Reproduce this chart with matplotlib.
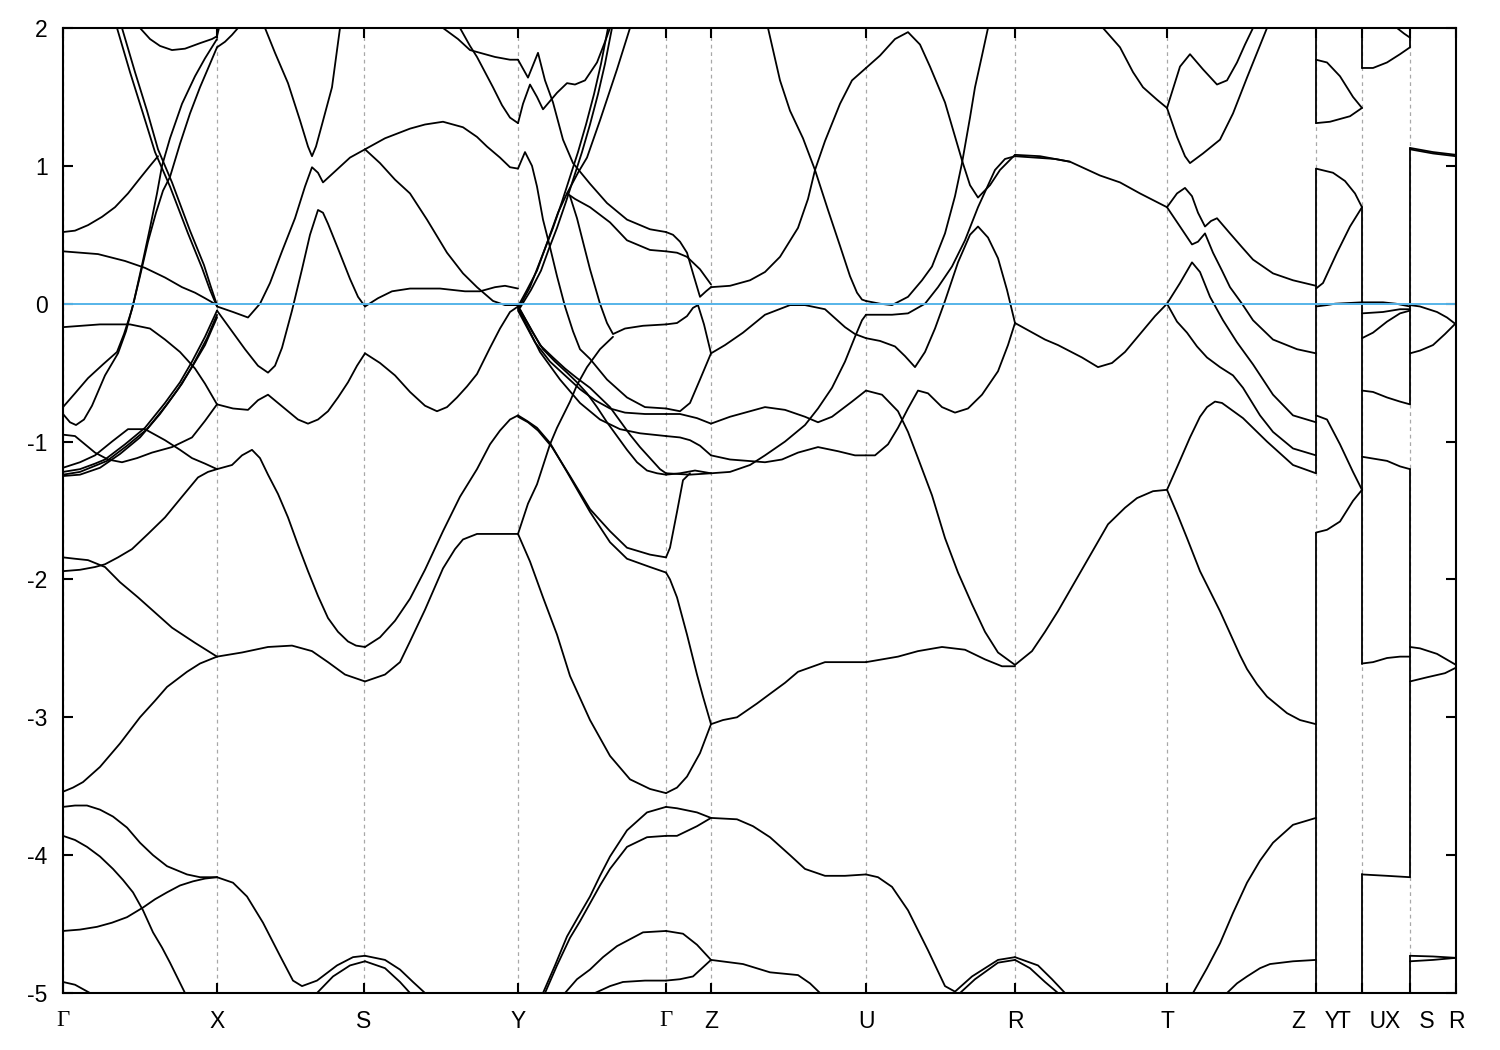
import matplotlib
matplotlib.use("Agg")
import matplotlib.pyplot as plt

# ---------------- data ----------------
# high-symmetry points along the k-path (path coordinate, arbitrary units)
kpath_pos = [63, 217, 364, 518, 666, 711, 866, 1015, 1167, 1316, 1362, 1410, 1456]
kpath_labels = ["Γ", "X", "S", "Y", "Γ", "Z", "U", "R", "T", "Z   Y", "T   U", "X   S", "R"]
energy_ticks = [-5, -4, -3, -2, -1, 0, 1, 2]
fermi_level = 0.0

# bands, one list of (k, E) per band piece, grouped by path segment
bands_G_X = [
    [(63, 0.52), (75, 0.53), (88, 0.57), (102, 0.63), (115, 0.70), (128, 0.80), (140, 0.91), (150, 1.00), (158, 1.07)],
    [(63, 0.38), (98, 0.36), (125, 0.31), (145, 0.26), (165, 0.19), (182, 0.12), (195, 0.08), (205, 0.04), (217, -0.01)],
    [(63, -0.17), (100, -0.15), (130, -0.15), (150, -0.18), (165, -0.26), (180, -0.35), (195, -0.47), (205, -0.58), (217, -0.73)],
    [(63, -0.75), (75, -0.65), (88, -0.54), (103, -0.44), (117, -0.35), (124, -0.22), (132, -0.04), (140, 0.20), (148, 0.45),
     (156, 0.66), (163, 0.82), (170, 0.92), (180, 1.16), (190, 1.38), (200, 1.57), (210, 1.74), (217, 1.86)],
    [(63, -0.80), (70, -0.86), (76, -0.88), (84, -0.84), (92, -0.74), (105, -0.52), (118, -0.36), (126, -0.20), (134, 0.02),
     (142, 0.28), (150, 0.55), (157, 0.80), (162, 1.00), (170, 1.20), (182, 1.45), (195, 1.65), (205, 1.78), (217, 1.92)],
    [(117, 2.0), (130, 1.68), (143, 1.38), (155, 1.10), (170, 0.85), (188, 0.51), (202, 0.26), (210, 0.10), (217, -0.02)],
    [(122, 2.0), (135, 1.68), (147, 1.40), (158, 1.12), (172, 0.88), (190, 0.53), (204, 0.28), (211, 0.12), (217, -0.01)],
    [(140, 2.0), (150, 1.92), (160, 1.87), (172, 1.84), (185, 1.85), (200, 1.89), (212, 1.92), (217, 1.94), (219, 2.0)],
    [(63, -0.95), (75, -0.96), (95, -1.08), (108, -1.13), (122, -1.15), (137, -1.12), (152, -1.08), (172, -1.04), (192, -0.97),
     (205, -0.85), (217, -0.73)],
    [(63, -1.19), (80, -1.15), (95, -1.10), (112, -1.00), (128, -0.91), (145, -0.91), (165, -0.99), (180, -1.06), (192, -1.12),
     (205, -1.16), (217, -1.20)],
    [(63, -1.22), (80, -1.20), (95, -1.16), (105, -1.13), (125, -1.02), (145, -0.90), (165, -0.72), (180, -0.57), (192, -0.42),
     (205, -0.24), (217, -0.05)],
    [(63, -1.24), (80, -1.22), (97, -1.17), (107, -1.14), (127, -1.03), (147, -0.91), (167, -0.73), (182, -0.58), (194, -0.43),
     (207, -0.25), (217, -0.08)],
    [(63, -1.25), (80, -1.24), (100, -1.19), (120, -1.09), (140, -0.97), (160, -0.80), (178, -0.62), (192, -0.46), (205, -0.30),
     (217, -0.10)],
    [(63, -1.84), (75, -1.85), (88, -1.86), (105, -1.91), (120, -2.02), (138, -2.13), (155, -2.24), (172, -2.35), (195, -2.46),
     (217, -2.56)],
    [(63, -1.94), (80, -1.93), (95, -1.91), (105, -1.89), (118, -1.84), (132, -1.78), (148, -1.67), (165, -1.55), (182, -1.40),
     (198, -1.26), (208, -1.22), (217, -1.20)],
    [(63, -3.54), (73, -3.51), (83, -3.47), (100, -3.36), (120, -3.19), (140, -3.00), (155, -2.88), (167, -2.78), (187, -2.67),
     (200, -2.61), (217, -2.56)],
    [(63, -3.65), (75, -3.64), (87, -3.64), (100, -3.67), (113, -3.72), (127, -3.80), (140, -3.91), (153, -4.00), (167, -4.08),
     (187, -4.14), (200, -4.16), (217, -4.16)],
    [(63, -3.86), (75, -3.89), (87, -3.94), (100, -4.01), (113, -4.10), (123, -4.18), (133, -4.27), (143, -4.40), (153, -4.56),
     (162, -4.67), (170, -4.78), (185, -5.0)],
    [(63, -4.55), (80, -4.54), (97, -4.52), (112, -4.49), (127, -4.45), (143, -4.38), (155, -4.32), (167, -4.27), (180, -4.22),
     (193, -4.19), (205, -4.17), (217, -4.16)],
    [(63, -4.92), (75, -4.94), (90, -5.0)],
]

bands_X_S = [
    [(217, 1.86), (225, 1.90), (232, 1.95), (238, 2.0)],
    [(265, 2.0), (275, 1.82), (288, 1.60), (300, 1.33), (308, 1.14), (312, 1.07), (316, 1.14), (322, 1.30), (332, 1.57), (340, 2.0)],
    [(217, -0.02), (233, -0.06), (248, -0.10), (260, 0.0), (270, 0.15), (282, 0.38), (295, 0.62), (305, 0.85), (312, 0.99),
     (318, 0.95), (323, 0.88), (335, 0.96), (350, 1.06), (365, 1.12)],
    [(217, -0.05), (230, -0.18), (245, -0.33), (258, -0.45), (268, -0.50), (275, -0.45), (282, -0.32), (292, -0.05), (302, 0.25),
     (310, 0.50), (318, 0.68), (323, 0.66), (328, 0.58), (338, 0.40), (350, 0.18), (358, 0.05), (365, -0.02)],
    [(217, -0.73), (233, -0.76), (248, -0.77), (258, -0.70), (268, -0.66), (278, -0.72), (288, -0.78), (298, -0.84), (308, -0.87),
     (318, -0.84), (328, -0.78), (338, -0.68), (348, -0.57), (357, -0.45), (365, -0.36)],
    [(217, -1.20), (232, -1.17), (242, -1.10), (252, -1.06), (260, -1.12), (268, -1.24), (278, -1.38), (288, -1.55), (298, -1.75),
     (308, -1.94), (318, -2.12), (328, -2.28), (338, -2.38), (348, -2.45), (356, -2.48), (365, -2.49)],
    [(217, -2.56), (242, -2.53), (268, -2.49), (292, -2.48), (312, -2.52), (328, -2.60), (345, -2.69), (365, -2.74)],
    [(217, -4.16), (233, -4.20), (247, -4.30), (263, -4.49), (280, -4.73), (293, -4.91), (302, -4.95), (317, -4.91), (337, -4.80),
     (353, -4.74), (365, -4.73)],
    [(317, -5.0), (333, -4.88), (350, -4.80), (365, -4.77)],
]

bands_S_Y = [
    [(365, 1.12), (385, 1.20), (410, 1.27), (425, 1.30), (443, 1.32), (463, 1.28), (477, 1.21), (487, 1.14), (500, 1.06),
     (510, 0.99), (518, 0.98)],
    [(365, 1.12), (380, 1.02), (395, 0.90), (410, 0.80), (427, 0.61), (447, 0.37), (463, 0.22), (477, 0.12), (493, 0.02),
     (505, -0.01), (518, -0.01)],
    [(365, -0.02), (378, 0.04), (392, 0.09), (410, 0.11), (440, 0.11), (465, 0.09), (480, 0.09), (495, 0.12), (505, 0.13), (518, 0.11)],
    [(365, -0.36), (380, -0.43), (395, -0.52), (410, -0.64), (425, -0.74), (437, -0.78), (447, -0.75), (457, -0.68), (467, -0.60),
     (477, -0.51), (490, -0.32), (500, -0.18), (510, -0.06), (518, -0.02)],
    [(365, -2.49), (380, -2.42), (395, -2.30), (410, -2.14), (425, -1.93), (443, -1.65), (460, -1.40), (477, -1.20), (490, -1.02),
     (500, -0.92), (510, -0.84), (518, -0.81)],
    [(365, -2.74), (385, -2.69), (400, -2.60), (410, -2.45), (425, -2.22), (443, -1.92), (455, -1.78), (463, -1.71), (477, -1.67),
     (500, -1.67), (518, -1.67)],
    [(365, -4.73), (385, -4.76), (400, -4.83), (413, -4.92), (425, -5.0)],
    [(365, -4.77), (385, -4.82), (400, -4.92), (410, -5.0)],
    [(443, 2.0), (458, 1.92), (470, 1.84), (480, 1.82), (495, 1.79), (510, 1.77), (518, 1.77)],
    [(460, 2.0), (470, 1.87), (477, 1.79), (485, 1.68), (493, 1.57), (502, 1.44), (510, 1.35), (518, 1.31)],
]

bands_Y_G = [
    [(518, 1.77), (528, 1.64), (538, 1.82), (545, 1.62), (553, 1.46), (563, 1.19), (573, 1.02), (590, 0.87), (607, 0.73),
     (627, 0.61), (650, 0.54), (666, 0.52)],
    [(518, 1.31), (523, 1.45), (530, 1.59), (537, 1.50), (543, 1.41), (550, 1.47), (557, 1.53), (567, 1.60), (575, 1.59),
     (585, 1.62), (597, 1.75), (605, 1.90), (610, 2.0)],
    [(518, 0.98), (525, 1.10), (532, 1.00), (537, 0.85), (543, 0.61), (550, 0.41), (557, 0.20), (565, -0.02), (573, -0.20),
     (580, -0.33), (590, -0.40), (607, -0.55), (627, -0.68), (645, -0.75), (666, -0.76)],
    [(518, -0.02), (527, 0.10), (537, 0.24), (545, 0.40), (553, 0.55), (562, 0.74), (570, 0.92), (578, 1.10), (586, 1.30),
     (594, 1.52), (601, 1.74), (608, 2.0)],
    [(520, -0.03), (531, 0.10), (541, 0.24), (549, 0.40), (557, 0.55), (566, 0.74), (574, 0.92), (582, 1.10), (590, 1.30),
     (598, 1.52), (605, 1.74), (612, 2.0)],
    [(518, -0.04), (530, 0.12), (545, 0.40), (558, 0.66), (567, 0.80), (575, 0.76), (590, 0.70), (610, 0.59), (627, 0.46),
     (650, 0.39), (666, 0.38)],
    [(570, 0.78), (577, 0.62), (584, 0.42), (590, 0.25), (600, 0.0), (607, -0.14), (613, -0.22), (625, -0.18), (643, -0.16),
     (666, -0.15)],
    [(567, 0.80), (578, 0.95), (587, 1.06), (600, 1.33), (617, 1.70), (630, 2.0)],
    [(518, -0.02), (530, -0.17), (540, -0.30), (553, -0.39), (565, -0.47), (577, -0.54), (590, -0.61), (600, -0.68), (610, -0.75),
     (620, -0.85), (630, -0.95), (640, -1.04), (650, -1.12), (660, -1.20), (666, -1.23)],
    [(520, -0.04), (532, -0.20), (543, -0.33), (555, -0.42), (567, -0.50), (577, -0.57), (587, -0.65), (597, -0.75), (607, -0.86),
     (617, -0.96), (627, -1.06), (637, -1.15), (647, -1.21), (657, -1.23), (666, -1.24)],
    [(518, -0.05), (535, -0.28), (550, -0.42), (565, -0.52), (580, -0.62), (595, -0.70), (610, -0.76), (625, -0.79), (645, -0.80),
     (666, -0.80)],
    [(518, -0.03), (540, -0.35), (560, -0.55), (580, -0.72), (600, -0.84), (620, -0.91), (640, -0.94), (666, -0.96)],
    [(518, -0.81), (527, -0.85), (537, -0.90), (550, -1.01), (567, -1.22), (590, -1.51), (610, -1.73), (627, -1.85), (650, -1.91),
     (666, -1.95)],
    [(518, -0.82), (528, -0.86), (538, -0.92), (552, -1.04), (570, -1.25), (590, -1.49), (610, -1.65), (627, -1.77), (650, -1.82),
     (666, -1.84)],
    [(518, -1.67), (530, -1.87), (543, -2.13), (557, -2.40), (570, -2.70), (590, -3.02), (610, -3.28), (630, -3.45), (650, -3.52),
     (666, -3.55)],
    [(518, -1.67), (528, -1.45), (537, -1.31), (550, -1.02), (557, -0.90), (570, -0.71), (577, -0.59), (587, -0.46), (600, -0.33),
     (613, -0.24)],
    [(543, -5.0), (555, -4.80), (567, -4.59), (578, -4.45), (590, -4.30), (600, -4.15), (610, -4.01), (627, -3.82), (647, -3.69),
     (666, -3.65)],
    [(545, -5.0), (557, -4.80), (570, -4.60), (580, -4.48), (590, -4.35), (600, -4.22), (610, -4.10), (627, -3.94), (647, -3.87),
     (666, -3.86)],
    [(565, -5.0), (577, -4.90), (590, -4.83), (603, -4.74), (617, -4.66), (643, -4.56), (666, -4.55)],
    [(595, -5.0), (610, -4.95), (623, -4.92), (645, -4.91), (666, -4.91)],
]

bands_G_Z = [
    [(666, 0.52), (673, 0.50), (680, 0.45), (687, 0.37), (693, 0.22), (700, 0.05), (706, 0.09), (711, 0.12)],
    [(666, 0.38), (677, 0.37), (687, 0.34), (700, 0.25), (711, 0.14)],
    [(666, -0.15), (677, -0.14), (687, -0.09), (693, -0.03), (698, -0.01), (704, -0.15), (711, -0.36)],
    [(666, -0.76), (680, -0.78), (690, -0.72), (700, -0.55), (711, -0.36)],
    [(666, -0.80), (680, -0.80), (697, -0.83), (711, -0.87)],
    [(666, -0.96), (680, -0.97), (690, -0.99), (700, -1.03), (711, -1.10)],
    [(666, -1.23), (690, -1.24), (711, -1.23)],
    [(666, -1.24), (680, -1.23), (695, -1.21), (711, -1.23)],
    [(666, -1.84), (670, -1.77), (677, -1.51), (683, -1.28), (690, -1.23)],
    [(666, -1.95), (670, -2.00), (677, -2.13), (687, -2.40), (697, -2.69), (703, -2.85), (711, -3.05)],
    [(666, -3.55), (677, -3.51), (687, -3.43), (700, -3.26), (711, -3.05)],
    [(666, -3.65), (677, -3.66), (697, -3.69), (711, -3.73)],
    [(666, -3.86), (677, -3.86), (697, -3.79), (711, -3.73)],
    [(666, -4.55), (683, -4.57), (697, -4.65), (711, -4.76)],
    [(666, -4.91), (680, -4.90), (693, -4.88), (711, -4.76)],
]

bands_Z_U = [
    [(711, 0.12), (730, 0.13), (750, 0.17), (765, 0.23), (780, 0.34), (798, 0.55), (808, 0.76), (815, 0.97), (825, 1.18),
     (840, 1.45), (852, 1.62), (866, 1.71)],
    [(768, 2.0), (780, 1.62), (790, 1.40), (803, 1.20), (815, 0.97), (828, 0.68), (840, 0.42), (850, 0.20), (857, 0.08),
     (862, 0.03), (866, 0.02)],
    [(711, -0.36), (725, -0.30), (743, -0.21), (765, -0.08), (790, -0.01), (805, -0.01), (825, -0.04), (845, -0.17),
     (855, -0.22), (866, -0.25)],
    [(711, -0.87), (730, -0.82), (750, -0.78), (765, -0.75), (785, -0.77), (805, -0.82), (818, -0.86), (832, -0.82),
     (852, -0.71), (866, -0.63)],
    [(711, -1.10), (730, -1.13), (765, -1.15), (782, -1.13), (798, -1.08), (818, -1.04), (838, -1.07), (855, -1.10), (866, -1.10)],
    [(711, -1.23), (730, -1.22), (750, -1.17), (765, -1.10), (785, -1.00), (805, -0.88), (818, -0.76), (832, -0.61),
     (845, -0.42), (855, -0.24), (862, -0.12), (866, -0.08)],
    [(711, -3.05), (723, -3.02), (737, -3.00), (757, -2.90), (770, -2.83), (785, -2.75), (798, -2.67), (825, -2.60), (866, -2.60)],
    [(711, -3.73), (737, -3.74), (753, -3.79), (770, -3.87), (790, -4.00), (805, -4.10), (825, -4.15), (845, -4.15), (866, -4.14)],
    [(711, -4.76), (743, -4.79), (770, -4.85), (798, -4.87), (810, -4.93), (820, -5.0)],
]

bands_U_R = [
    [(866, 1.71), (880, 1.80), (895, 1.92), (908, 1.97), (920, 1.88), (930, 1.72), (945, 1.46), (962, 1.04), (970, 0.86),
     (978, 0.77), (990, 0.86), (1000, 0.97), (1015, 1.08)],
    [(866, 0.02), (880, 0.00), (892, -0.01), (908, 0.05), (922, 0.17), (932, 0.27), (945, 0.51), (955, 0.78), (962, 1.02),
     (970, 1.35), (975, 1.57), (982, 1.80), (988, 2.0)],
    [(866, -0.08), (875, -0.08), (892, -0.08), (908, -0.07), (925, 0.00), (938, 0.12), (952, 0.27), (965, 0.46), (978, 0.70),
     (995, 0.97), (1005, 1.05), (1015, 1.07)],
    [(866, -0.25), (880, -0.27), (895, -0.31), (905, -0.38), (915, -0.46), (925, -0.35), (935, -0.18), (945, 0.02), (958, 0.30),
     (970, 0.50), (978, 0.56), (988, 0.48), (998, 0.33), (1007, 0.10), (1015, -0.14)],
    [(866, -0.63), (882, -0.66), (898, -0.78), (908, -0.93), (918, -1.12), (932, -1.39), (945, -1.70), (958, -1.95),
     (972, -2.18), (985, -2.38), (998, -2.53), (1015, -2.62)],
    [(866, -1.10), (875, -1.10), (888, -1.02), (898, -0.90), (908, -0.76), (918, -0.63), (928, -0.65), (942, -0.75),
     (955, -0.79), (968, -0.76), (982, -0.66), (998, -0.49), (1008, -0.30), (1015, -0.14)],
    [(866, -2.60), (898, -2.56), (918, -2.52), (942, -2.49), (965, -2.51), (985, -2.58), (1002, -2.63), (1015, -2.63)],
    [(866, -4.14), (878, -4.16), (892, -4.23), (908, -4.40), (928, -4.69), (945, -4.95), (955, -4.99), (972, -4.88),
     (998, -4.76), (1015, -4.74)],
    [(960, -5.0), (975, -4.90), (998, -4.78), (1015, -4.76)],
]

bands_R_T = [
    [(1015, 1.08), (1040, 1.07), (1070, 1.03), (1100, 0.93), (1120, 0.88), (1140, 0.80), (1167, 0.70)],
    [(1015, 1.07), (1035, 1.06), (1055, 1.05), (1070, 1.03)],
    [(1103, 2.0), (1120, 1.86), (1133, 1.68), (1143, 1.57), (1157, 1.48), (1167, 1.42)],
    [(1015, -0.14), (1030, -0.20), (1045, -0.26), (1058, -0.30), (1082, -0.39), (1098, -0.46), (1112, -0.43), (1125, -0.35),
     (1140, -0.22), (1155, -0.09), (1167, 0.0)],
    [(1015, -2.62), (1032, -2.52), (1045, -2.38), (1058, -2.23), (1085, -1.89), (1108, -1.60), (1125, -1.48), (1137, -1.41),
     (1153, -1.36), (1167, -1.35)],
    [(1015, -4.74), (1038, -4.80), (1052, -4.90), (1065, -5.0)],
    [(1015, -4.76), (1030, -4.82), (1045, -4.92), (1058, -5.0)],
]

bands_T_Z = [
    [(1167, 1.42), (1180, 1.72), (1190, 1.81), (1203, 1.70), (1217, 1.59), (1227, 1.62), (1237, 1.75), (1245, 1.88), (1253, 2.0)],
    [(1167, 1.42), (1177, 1.21), (1185, 1.07), (1190, 1.02), (1203, 1.09), (1220, 1.19), (1233, 1.38), (1247, 1.64),
     (1257, 1.82), (1267, 2.0)],
    [(1167, 0.70), (1177, 0.80), (1185, 0.84), (1192, 0.78), (1198, 0.66), (1205, 0.56), (1211, 0.60), (1217, 0.62),
     (1230, 0.51), (1242, 0.41), (1253, 0.32), (1273, 0.22), (1293, 0.17), (1316, 0.13)],
    [(1167, 0.70), (1180, 0.56), (1192, 0.43), (1198, 0.45), (1205, 0.51), (1213, 0.37), (1222, 0.24), (1230, 0.12),
     (1242, 0.00), (1253, -0.12), (1273, -0.26), (1297, -0.33), (1316, -0.36)],
    [(1167, 0.0), (1180, 0.15), (1192, 0.30), (1200, 0.23), (1210, 0.05), (1223, -0.12), (1237, -0.28), (1253, -0.44),
     (1273, -0.66), (1293, -0.81), (1316, -0.86)],
    [(1167, 0.0), (1177, -0.13), (1187, -0.21), (1197, -0.31), (1207, -0.39), (1220, -0.46), (1233, -0.52), (1243, -0.61),
     (1260, -0.81), (1273, -0.93), (1293, -1.05), (1316, -1.10)],
    [(1167, -1.35), (1178, -1.17), (1190, -0.97), (1200, -0.82), (1207, -0.75), (1215, -0.71), (1222, -0.72), (1243, -0.83),
     (1267, -1.00), (1293, -1.17), (1316, -1.23)],
    [(1167, -1.35), (1177, -1.52), (1187, -1.70), (1200, -1.94), (1220, -2.23), (1240, -2.55), (1247, -2.65), (1257, -2.76),
     (1267, -2.85), (1287, -2.97), (1300, -3.02), (1316, -3.05)],
    [(1193, -5.0), (1207, -4.82), (1220, -4.64), (1233, -4.42), (1247, -4.20), (1260, -4.04), (1273, -3.91), (1293, -3.78),
     (1316, -3.73)],
    [(1227, -5.0), (1237, -4.93), (1247, -4.88), (1260, -4.82), (1270, -4.79), (1293, -4.77), (1316, -4.76)],
]

bands_Y_T = [
    [(1316, 1.77), (1327, 1.75), (1340, 1.65), (1353, 1.50), (1362, 1.42)],
    [(1316, 1.31), (1330, 1.32), (1350, 1.36), (1362, 1.42)],
    [(1316, 0.98), (1333, 0.95), (1345, 0.89), (1355, 0.80), (1362, 0.70)],
    [(1316, 0.11), (1323, 0.15), (1330, 0.26), (1337, 0.37), (1350, 0.56), (1362, 0.70)],
    [(1316, -0.02), (1327, -0.01), (1335, 0.00), (1362, 0.01)],
    [(1316, -0.81), (1327, -0.84), (1340, -1.02), (1353, -1.22), (1362, -1.35)],
    [(1316, -1.66), (1327, -1.64), (1340, -1.58), (1353, -1.43), (1362, -1.35)],
]

bands_U_X = [
    [(1362, 1.71), (1373, 1.71), (1387, 1.75), (1400, 1.81), (1410, 1.86)],
    [(1397, 2.0), (1404, 1.96), (1410, 1.93)],
    [(1362, 0.01), (1383, 0.01), (1396, 0.00), (1410, -0.02)],
    [(1362, -0.07), (1383, -0.06), (1400, -0.04), (1410, -0.04)],
    [(1362, -0.25), (1373, -0.21), (1387, -0.13), (1400, -0.07), (1410, -0.05)],
    [(1362, -0.63), (1373, -0.64), (1387, -0.68), (1400, -0.71), (1410, -0.73)],
    [(1362, -1.11), (1387, -1.14), (1400, -1.18), (1410, -1.20)],
    [(1362, -2.61), (1373, -2.60), (1387, -2.57), (1400, -2.56), (1410, -2.56)],
    [(1362, -4.14), (1387, -4.15), (1410, -4.16)],
]

bands_S_R = [
    [(1410, 1.13), (1433, 1.10), (1456, 1.08)],
    [(1410, 1.12), (1433, 1.09), (1456, 1.07)],
    [(1410, -0.01), (1420, -0.02), (1437, -0.06), (1447, -0.10), (1456, -0.15)],
    [(1410, -0.36), (1420, -0.34), (1433, -0.30), (1445, -0.22), (1456, -0.14)],
    [(1410, -2.49), (1420, -2.50), (1437, -2.54), (1456, -2.62)],
    [(1410, -2.74), (1427, -2.71), (1445, -2.68), (1456, -2.64)],
    [(1410, -4.73), (1433, -4.735), (1456, -4.745)],
    [(1410, -4.77), (1433, -4.76), (1456, -4.745)],
]

# band jumps at the path discontinuities: (k, [(E_from, E_to), ...])
jump_Z_Y = (1316, [(2.05, 1.31), (0.98, -1.23), (-1.66, -5.05)])
jump_T_U = (1362, [(2.05, 1.71), (0.70, -2.61), (-4.14, -5.05)])
jump_X_S = (1410, [(2.05, 1.86), (1.13, -0.73), (-1.20, -4.16), (-4.73, -5.05)])

# ---------------- plot ----------------
plt.rcParams['font.family'] = ['Liberation Sans', 'DejaVu Sans']
plt.rcParams['axes.unicode_minus'] = False

fig = plt.figure(figsize=(15, 10.5), dpi=100)
ax = fig.add_axes([63 / 1500, 57 / 1050, (1456 - 63) / 1500, (993 - 28) / 1050])

band_style = dict(color='black', lw=1.3, solid_joinstyle='round', solid_capstyle='round', zorder=2)

for segment in (bands_G_X, bands_X_S, bands_S_Y, bands_Y_G, bands_G_Z, bands_Z_U,
                bands_U_R, bands_R_T, bands_T_Z, bands_Y_T, bands_U_X, bands_S_R):
    for band in segment:
        ks = [p[0] for p in band]
        es = [p[1] for p in band]
        ax.plot(ks, es, **band_style)

for kx, spans in (jump_Z_Y, jump_T_U, jump_X_S):
    for e0, e1 in spans:
        ax.plot([kx, kx], [e0, e1], **band_style)

ax.axhline(fermi_level, color='#56b4e9', lw=1.4, zorder=3)

ax.set_xlim(kpath_pos[0], kpath_pos[-1])
ax.set_ylim(energy_ticks[0], energy_ticks[-1])
ax.set_xticks(kpath_pos)
ax.set_xticklabels(kpath_labels)
ax.set_yticks(energy_ticks)
ax.set_yticklabels([str(v) for v in energy_ticks])

ax.grid(axis='x', color='#a8a8a8', lw=0.9, linestyle=(0, (3, 3)), zorder=0)
ax.set_axisbelow(True)

ax.tick_params(direction='in', length=7.5, width=1.5, top=True, right=True,
               labelsize=16.5, colors='black')
ax.tick_params(axis='y', pad=11)
ax.tick_params(axis='x', pad=12)
for sp in ax.spines.values():
    sp.set_linewidth(1.5)
    sp.set_zorder(5)

for lab in ax.get_xticklabels():
    if lab.get_text() == "Γ":
        lab.set_fontfamily(['Liberation Serif', 'DejaVu Serif'])

fig.savefig('out.png', dpi=100)
